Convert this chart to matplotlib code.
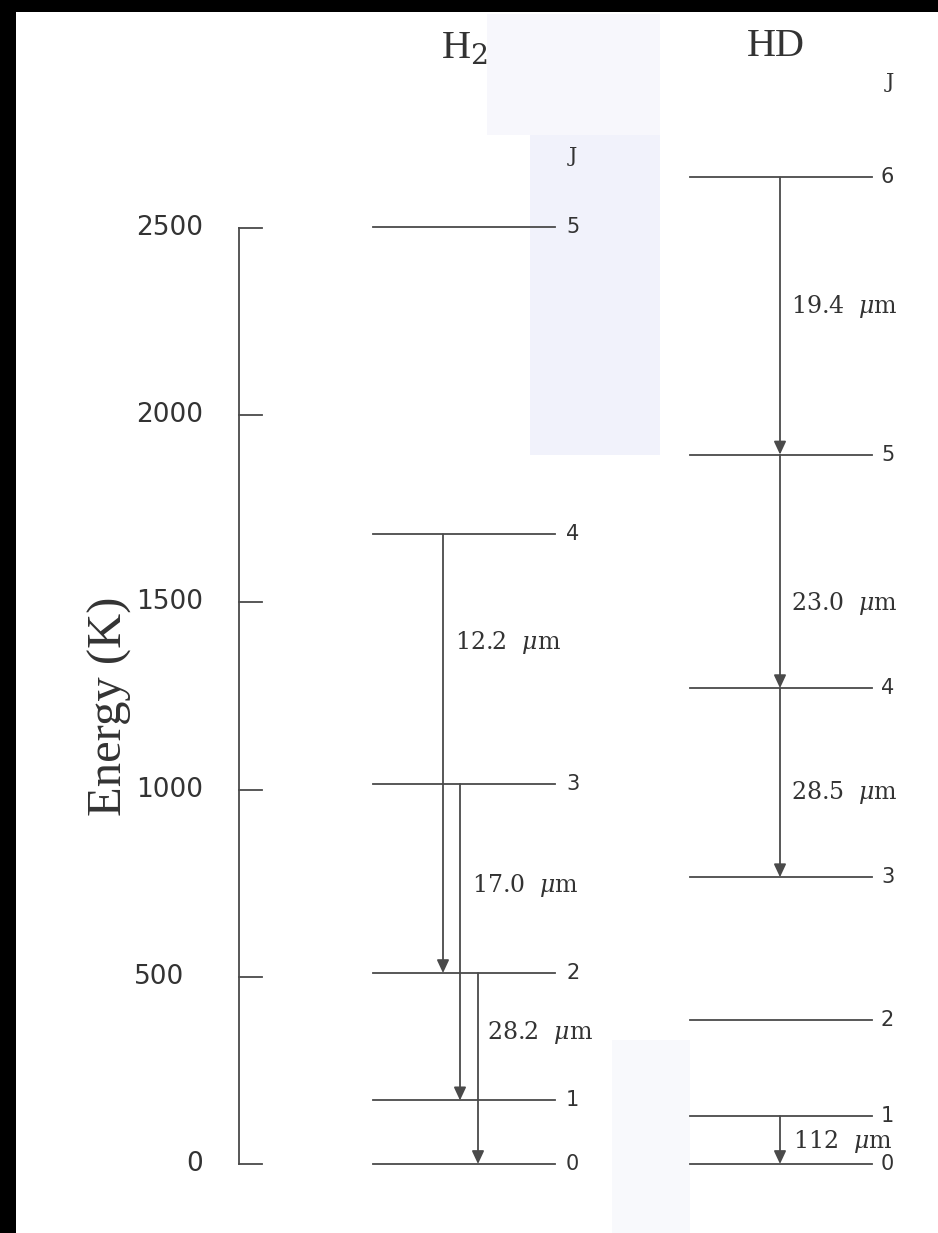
import matplotlib
matplotlib.use("Agg")
import matplotlib.pyplot as plt
from matplotlib.patches import Rectangle

plt.rcParams["mathtext.fontset"] = "dejavuserif"

# Rotational levels (energy above ground, K)
h2_J = [0, 1, 2, 3, 4, 5]
h2_E = [0, 170, 510, 1015, 1682, 2504]
hd_J = [0, 1, 2, 3, 4, 5, 6]
hd_E = [0, 128, 385, 766, 1271, 1895, 2635]

# Transitions: upper J, lower J, wavelength (micron)
h2_upper = [4, 3, 2]
h2_lower = [2, 1, 0]
h2_wave = ["12.2", "17.0", "28.2"]
hd_upper = [6, 5, 4, 1]
hd_lower = [5, 4, 3, 0]
hd_wave = ["19.4", "23.0", "28.5", "112"]

energy_ticks = [0, 500, 1000, 1500, 2000, 2500]

# ---- layout (pixels) ----
W, H = 938, 1233
Y0, SCALE = 1164, 0.3744          # pixel row of E=0, pixels per K


def e_of(ypx):
    return (Y0 - ypx) / SCALE


LINE_C = "#4a4a4a"
TEXT_C = "#333333"
LW = 1.3

fig = plt.figure(figsize=(W / 100, H / 100), dpi=100)
fig.patch.set_facecolor("white")
ax = fig.add_axes([0, 0, 1, 1])
ax.set_xlim(0, W)
ax.set_ylim(e_of(H), e_of(0))
ax.axis("off")

# faint scanner tint and dark frame edges
for (x0, y0, x1, y1, c) in [(487, 14, 660, 135, "#f7f7fc"),
                            (530, 135, 660, 455, "#f1f2fb"),
                            (612, 1040, 690, 1233, "#f8f9fc")]:
    ax.add_patch(Rectangle((x0, e_of(y1)), x1 - x0, e_of(y0) - e_of(y1),
                           facecolor=c, edgecolor="none", zorder=0))
ax.add_patch(Rectangle((0, e_of(H)), 16, e_of(0) - e_of(H),
                       facecolor="black", edgecolor="none", zorder=5))
ax.add_patch(Rectangle((0, e_of(12)), W, e_of(0) - e_of(12),
                       facecolor="black", edgecolor="none", zorder=5))

# energy axis
AX_X, TICK_END = 239, 262
ax.plot([AX_X, AX_X], [energy_ticks[0], energy_ticks[-1]], color=LINE_C, lw=LW)
for t in energy_ticks:
    ax.plot([AX_X, TICK_END], [t, t], color=LINE_C, lw=LW)
    xr = 184 if t == 500 else 203
    ax.text(xr, t, f"{t}", ha="right", va="center", fontsize=19,
            family="DejaVu Sans", color=TEXT_C)
ax.text(110, e_of(706), "Energy (K)", rotation=90, ha="center", va="center",
        fontsize=35, family="Liberation Serif", color=TEXT_C)

# ---- level ladders ----
H2_X0, H2_X1, H2_LAB = 373, 555, 566
HD_X0, HD_X1, HD_LAB = 690, 872, 881

for j, e in zip(h2_J, h2_E):
    ax.plot([H2_X0, H2_X1], [e, e], color=LINE_C, lw=LW)
    ax.text(H2_LAB, e, str(j), ha="left", va="center", fontsize=15,
            family="DejaVu Sans", color=TEXT_C)
for j, e in zip(hd_J, hd_E):
    ax.plot([HD_X0, HD_X1], [e, e], color=LINE_C, lw=LW)
    ax.text(HD_LAB, e, str(j), ha="left", va="center", fontsize=15,
            family="DejaVu Sans", color=TEXT_C)

ax.text(H2_LAB + 7, e_of(157), "J", ha="center", va="center", fontsize=15,
        family="DejaVu Serif", color=TEXT_C)
ax.text(HD_LAB + 9, e_of(82), "J", ha="center", va="center", fontsize=15,
        family="DejaVu Serif", color=TEXT_C)

ax.text(464, e_of(48), r"H$_2$", ha="center", va="center",
        fontsize=29, family="Liberation Serif", color=TEXT_C)
ax.text(776, e_of(46), "HD", ha="center", va="center",
        fontsize=29, family="Liberation Serif", color=TEXT_C)

# ---- transitions ----
arrow = dict(arrowstyle="-|>,head_length=0.6,head_width=0.28", color=LINE_C,
             lw=LW, shrinkA=0, shrinkB=0, mutation_scale=13)

h2_arrow_x = [443, 460, 478]
h2_label_x = [455, 472, 487]
h2_label_y = [1394, 745, 350]
for u, l, w, x, lx, ly in zip(h2_upper, h2_lower, h2_wave,
                              h2_arrow_x, h2_label_x, h2_label_y):
    ax.annotate("", xy=(x, h2_E[l]), xytext=(x, h2_E[u]), arrowprops=arrow)
    ax.text(lx, ly, w + r"  $\mu$m", ha="left", va="center", fontsize=17,
            family="DejaVu Serif", color=TEXT_C)

hd_arrow_x = [780, 780, 780, 780]
hd_label_x = [791, 791, 791, 793]
hd_label_y = [2289, 1498, 991, 59]
for u, l, w, x, lx, ly in zip(hd_upper, hd_lower, hd_wave,
                              hd_arrow_x, hd_label_x, hd_label_y):
    ax.annotate("", xy=(x, hd_E[l]), xytext=(x, hd_E[u]), arrowprops=arrow)
    ax.text(lx, ly, w + r"  $\mu$m", ha="left", va="center", fontsize=17,
            family="DejaVu Serif", color=TEXT_C)

fig.savefig("out.png", dpi=100, facecolor="white")
